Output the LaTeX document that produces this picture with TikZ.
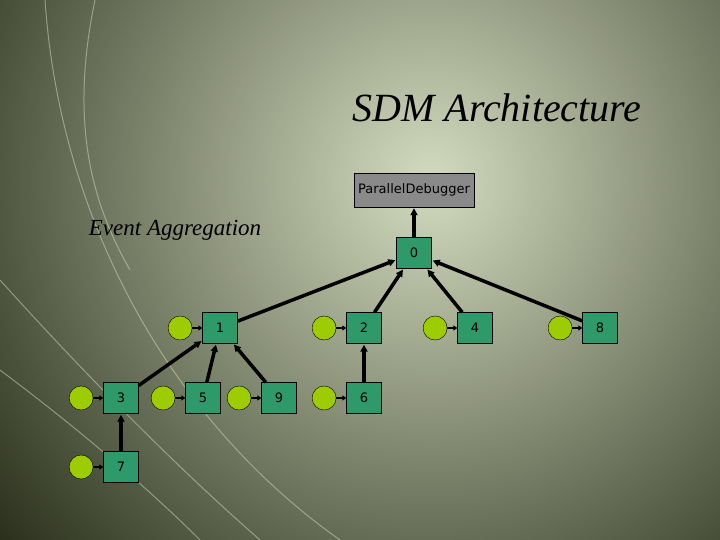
\documentclass[tikz,border=0pt]{standalone}
\usepackage{fontspec}
\setmainfont{Liberation Serif}
\newfontfamily\nodefont{DejaVu Sans}
\usetikzlibrary{arrows.meta,positioning}

\definecolor{boxgreen}{HTML}{2E9A6A}
\definecolor{ballgreen}{HTML}{9DCC00}
\definecolor{bgdark}{HTML}{1E2410}
\definecolor{bglight}{HTML}{D3DBBF}

\begin{document}
\begin{tikzpicture}[x=1pt,y=-1pt,>={Triangle[length=7pt,width=7pt]},
    rank node/.style={rectangle,draw,fill=boxgreen,minimum width=35pt,minimum height=31pt,inner sep=0pt,font=\nodefont\fontsize{13}{15}\selectfont},
    ball node/.style={circle,draw,fill=ballgreen,minimum size=24pt,inner sep=0pt},
    link/.style={->,line width=3.5pt,shorten >=1pt},
    feed/.style={->,line width=1.5pt,>={Triangle[length=4pt,width=5pt]}}]

	% background
	\useasboundingbox (0,0) rectangle (720,540);
	\fill[bgdark] (0,0) rectangle (720,540);
	\shade[inner color=bglight,outer color=bgdark] (-170,-420) rectangle (1030,780);
	\begin{scope}[draw=bglight,opacity=0.5,line width=1pt]
		\draw (45,0) .. controls (60,220) and (170,420) .. (340,540);
		\draw (0,280) .. controls (90,380) and (180,470) .. (260,540);
		\draw (0,370) .. controls (80,430) and (150,490) .. (200,540);
		\draw (95,0) .. controls (70,120) and (90,200) .. (130,270);
	\end{scope}

	% texts
	\node[font=\itshape\fontsize{40}{44}\selectfont] (title) at (497,108) {SDM Architecture};
	\node[font=\itshape\fontsize{23}{26}\selectfont] (agg) at (175,230) {Event Aggregation};

	% tree
	\node[rectangle,draw,fill=gray!85!black!80,minimum width=120pt,minimum height=34pt,font=\nodefont\fontsize{13}{15}\selectfont] (pd) at (414,190) {ParallelDebugger};
	\node[rank node] (0) at (414,253) {0};
	\node[rank node] (1) at (220,328) {1};
	\node[rank node] (2) at (364,328) {2};
	\node[rank node] (4) at (475,328) {4};
	\node[rank node] (8) at (600,328) {8};
	\node[rank node] (3) at (121,398) {3};
	\node[rank node] (5) at (203,398) {5};
	\node[rank node] (9) at (279,398) {9};
	\node[rank node] (6) at (364,398) {6};
	\node[rank node] (7) at (121,467) {7};

	\foreach \r in {1,2,4,8,3,5,9,6,7}
		\node[ball node,left=10pt of \r] (b\r) {};
	\foreach \r in {1,2,4,8,3,5,9,6,7}
		\draw[feed] (b\r) -- (\r);

	\path[link]
	(0) edge (pd)
	(1) edge (0)
	(2) edge (0)
	(4) edge (0)
	(8) edge (0)
	(3) edge (1)
	(5) edge (1)
	(9) edge (1)
	(6) edge (2)
	(7) edge (3);

\end{tikzpicture}
\end{document}
